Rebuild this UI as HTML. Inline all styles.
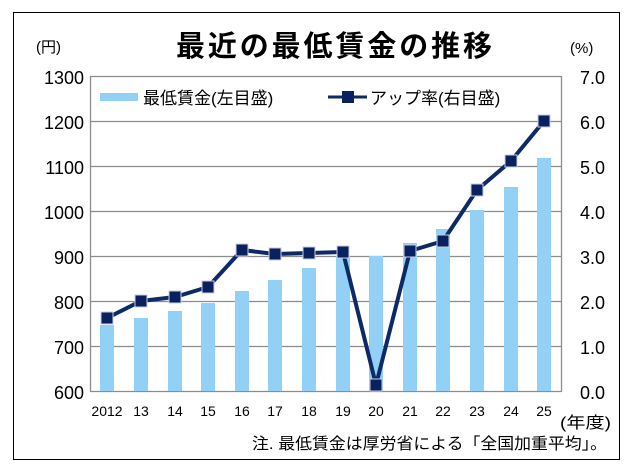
<!DOCTYPE html>
<html><head><meta charset="utf-8"><style>
html,body{margin:0;padding:0;background:#fff;}
text{font-family:"Liberation Sans","Noto Sans CJK JP",sans-serif;fill:#000;}
</style></head><body>
<svg width="626" height="469" viewBox="0 0 626 469" xmlns="http://www.w3.org/2000/svg">
<rect x="13.5" y="12.5" width="606" height="447" fill="#fff" stroke="#000" stroke-width="1"/>
<text x="176" y="56" font-size="29" font-weight="bold" textLength="316" lengthAdjust="spacing">最近の最低賃金の推移</text>
<text x="36" y="52" font-size="15">(円)</text>
<text x="570" y="53" font-size="15">(%)</text>
<g stroke="#8c8c8c" stroke-width="1.3">
<line x1="90" y1="76.5" x2="561" y2="76.5"/>
<line x1="90" y1="121.5" x2="561" y2="121.5"/>
<line x1="90" y1="166.5" x2="561" y2="166.5"/>
<line x1="90" y1="211.5" x2="561" y2="211.5"/>
<line x1="90" y1="256.5" x2="561" y2="256.5"/>
<line x1="90" y1="301.5" x2="561" y2="301.5"/>
<line x1="90" y1="346.5" x2="561" y2="346.5"/>
<line x1="90" y1="391.5" x2="561" y2="391.5"/>
<line x1="90.5" y1="76" x2="90.5" y2="392"/>
<line x1="561.5" y1="76" x2="561.5" y2="392"/>
</g>
<g font-size="18" text-anchor="end">
<text x="84" y="84">1300</text><text x="84" y="129">1200</text><text x="84" y="174">1100</text>
<text x="84" y="219">1000</text><text x="84" y="264">900</text><text x="84" y="309">800</text>
<text x="84" y="354">700</text><text x="84" y="399">600</text>
</g>
<g font-size="18">
<text x="580" y="84">7.0</text><text x="580" y="129">6.0</text><text x="580" y="174">5.0</text>
<text x="580" y="219">4.0</text><text x="580" y="264">3.0</text><text x="580" y="309">2.0</text>
<text x="580" y="354">1.0</text><text x="580" y="399">0.0</text>
</g>
<g fill="#92d1f5">
<rect x="100" y="325" width="14" height="66"/>
<rect x="134" y="318" width="14" height="73"/>
<rect x="168" y="311" width="14" height="80"/>
<rect x="201" y="303" width="14" height="88"/>
<rect x="235" y="291" width="14" height="100"/>
<rect x="268" y="280" width="14" height="111"/>
<rect x="302" y="268" width="14" height="123"/>
<rect x="336" y="256" width="14" height="135"/>
<rect x="369" y="256" width="14" height="135"/>
<rect x="403" y="243" width="14" height="148"/>
<rect x="436" y="229" width="14" height="162"/>
<rect x="470" y="210" width="14" height="181"/>
<rect x="504" y="187" width="14" height="204"/>
<rect x="537" y="158" width="14" height="233"/>
</g>
<polyline fill="none" stroke="#0e2a66" stroke-width="4" stroke-linejoin="round"
points="107,318 141,301 175,297 208,287 242,250 275,254 309,253 343,252 376,385 410,251 443,241 477,190 511,161 544,121"/>
<g fill="#0a2160" stroke="#c9cde6" stroke-width="1">
<rect x="101" y="312" width="12" height="12"/>
<rect x="135" y="295" width="12" height="12"/>
<rect x="169" y="291" width="12" height="12"/>
<rect x="202" y="281" width="12" height="12"/>
<rect x="236" y="244" width="12" height="12"/>
<rect x="269" y="248" width="12" height="12"/>
<rect x="303" y="247" width="12" height="12"/>
<rect x="337" y="246" width="12" height="12"/>
<rect x="370" y="379" width="12" height="12"/>
<rect x="404" y="245" width="12" height="12"/>
<rect x="437" y="235" width="12" height="12"/>
<rect x="471" y="184" width="12" height="12"/>
<rect x="505" y="155" width="12" height="12"/>
<rect x="538" y="115" width="12" height="12"/>
</g>
<rect x="100" y="93" width="38" height="8" fill="#92d1f5"/>
<text x="143" y="104" font-size="17">最低賃金(左目盛)</text>
<line x1="328" y1="97" x2="367" y2="97" stroke="#0e2a66" stroke-width="3"/>
<rect x="342" y="91" width="12" height="12" fill="#0a2160"/>
<text x="370" y="104" font-size="17">アップ率(右目盛)</text>
<g font-size="14" text-anchor="middle">
<text x="107" y="416">2012</text><text x="141" y="416">13</text><text x="175" y="416">14</text>
<text x="208" y="416">15</text><text x="242" y="416">16</text><text x="275" y="416">17</text>
<text x="309" y="416">18</text><text x="343" y="416">19</text><text x="376" y="416">20</text>
<text x="410" y="416">21</text><text x="443" y="416">22</text><text x="477" y="416">23</text>
<text x="511" y="416">24</text><text x="544" y="416">25</text>
</g>
<text x="560" y="428" font-size="16" textLength="51" lengthAdjust="spacingAndGlyphs">(年度)</text>
<text x="252" y="449" font-size="16" textLength="355" lengthAdjust="spacingAndGlyphs">注. 最低賃金は厚労省による「全国加重平均」。</text>
</svg>
</body></html>
